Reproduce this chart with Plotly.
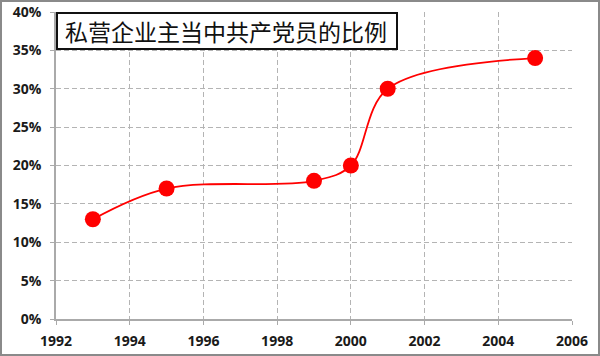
import plotly.graph_objects as go

years = [1993, 1995, 1999, 2000, 2001, 2005]
share_pct = [13, 17, 18, 20, 30, 34]
title_text = "私营企业主当中共产党员的比例"
x_ticks = [1992, 1994, 1996, 1998, 2000, 2002, 2004, 2006]
y_ticks = [0, 5, 10, 15, 20, 25, 30, 35, 40]
y_labels = [f"{v}%" for v in y_ticks]

W, H = 600, 356
ml, mr, mt, mb = 56, 28, 12, 37
pw, ph = W - ml - mr, H - mt - mb

def px(x):
    return (x - ml) / pw

def py(y):
    return 1 - (y - mt) / ph

fig = go.Figure()
fig.add_trace(go.Scatter(
    x=years, y=share_pct, mode="lines+markers",
    line=dict(color="#ff0000", width=1.8, shape="spline", smoothing=1.0),
    marker=dict(color="#ff0000", size=16),
    showlegend=False, cliponaxis=False,
))

tfont = dict(family="Open Sans", size=14, color="#1a1a1a", weight="bold")
grid = dict(showgrid=True, gridcolor="#b4b4b4", griddash="5px,3px", gridwidth=1)
fig.update_xaxes(range=[1992, 2006], tickvals=x_ticks, ticks="outside", ticklen=4,
                 tickcolor="#aaaaaa", showline=True, linecolor="#aaaaaa", linewidth=1.5,
                 zeroline=False, tickfont=tfont, ticklabelstandoff=4, automargin=False,
                 **grid)
fig.update_yaxes(range=[0, 40], tickvals=y_ticks, ticktext=y_labels, ticks="outside", ticklen=4,
                 tickcolor="#aaaaaa", showline=True, linecolor="#aaaaaa", linewidth=1.5,
                 zeroline=False, tickfont=tfont, ticklabelstandoff=6, automargin=False,
                 **grid)

shapes = [
    dict(type="rect", xref="paper", yref="paper",
         x0=px(1), x1=px(W - 1), y0=py(H - 1), y1=py(1),
         line=dict(color="#8a8a8a", width=2), layer="below"),
    dict(type="rect", xref="paper", yref="paper",
         x0=px(57), x1=px(397), y0=py(49), y1=py(13),
         line=dict(color="#111111", width=2), fillcolor="white", layer="above"),
]
fig.update_layout(
    width=W, height=H, margin=dict(l=ml, r=mr, t=mt, b=mb, autoexpand=False),
    plot_bgcolor="white", paper_bgcolor="white", shapes=shapes,
    annotations=[dict(text=title_text, xref="paper", yref="paper",
                      x=px(226), y=py(31), xanchor="center", yanchor="middle",
                      showarrow=False,
                      font=dict(family="Noto Sans CJK SC", size=23, color="#111"))],
)
fig.write_html("out.html")
